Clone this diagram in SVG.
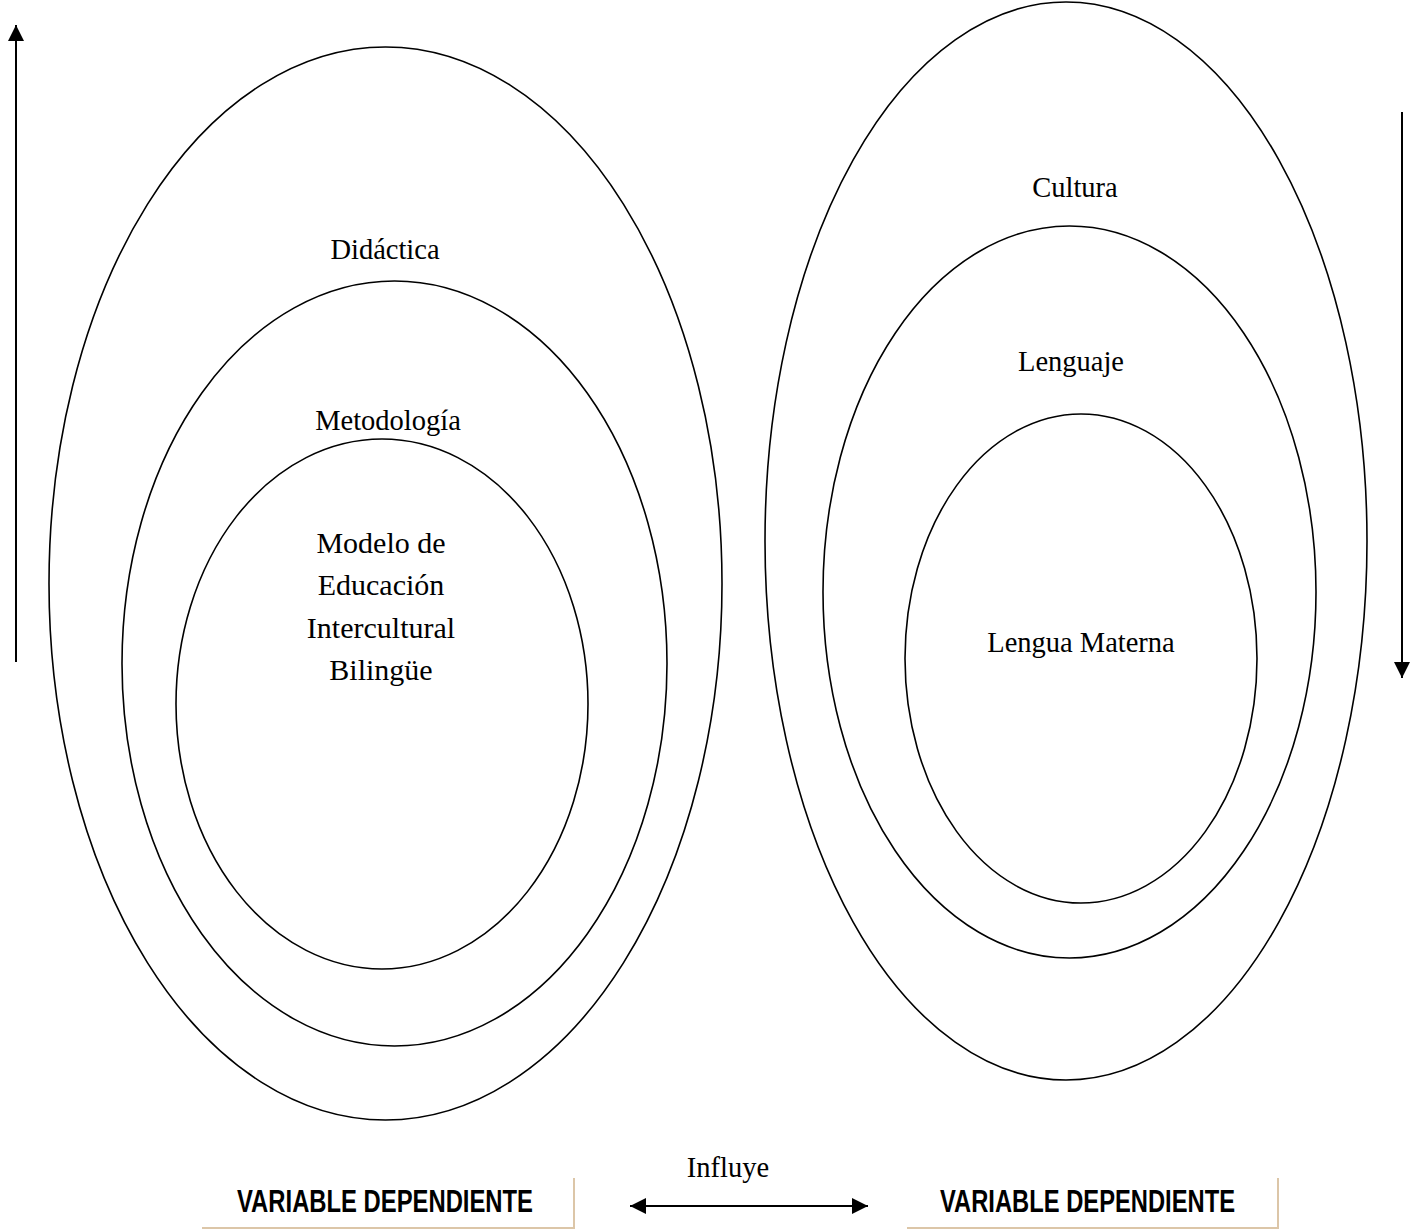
<svg xmlns="http://www.w3.org/2000/svg" width="1419" height="1230" viewBox="0 0 1419 1230">
  <style>
    .ring { fill: none; stroke: #000; stroke-width: 1.6; }
    .lbl { font-family: "Liberation Serif", "Times New Roman", serif; font-size: 28.5px; fill: #000; text-anchor: middle; }
    .inner { font-size: 30px; }
    .var { font-family: "Liberation Sans", Arial, sans-serif; font-weight: bold; font-size: 31px; fill: #000; }
    .conn { stroke: #000; stroke-width: 2; fill: none; }
    .box { stroke: #dcc6a8; stroke-width: 2; fill: none; }
  </style>
  <defs>
    <marker id="ahv" viewBox="0 0 10 10" refX="10" refY="5" markerWidth="17" markerHeight="16" markerUnits="userSpaceOnUse" orient="auto-start-reverse">
      <path d="M0,0 L10,5 L0,10 z" fill="#000"/>
    </marker>
  </defs>
  <rect width="1419" height="1230" fill="#fff"/>

  <g id="left-group">
    <g id="didactica">
      <ellipse class="ring" cx="385.5" cy="583.5" rx="336.5" ry="536.5"/>
      <text class="lbl" x="385" y="259">Didáctica</text>
    </g>
    <g id="metodologia">
      <ellipse class="ring" cx="394.5" cy="663.5" rx="272.5" ry="382.5"/>
      <text class="lbl" x="388" y="430">Metodología</text>
    </g>
    <g id="modelo">
      <ellipse class="ring" cx="382" cy="704" rx="206" ry="265"/>
      <text class="lbl inner" x="381" y="553">Modelo de</text>
      <text class="lbl inner" x="381" y="595">Educación</text>
      <text class="lbl inner" x="381" y="638">Intercultural</text>
      <text class="lbl inner" x="381" y="680">Bilingüe</text>
    </g>
  </g>

  <g id="right-group">
    <g id="cultura">
      <ellipse class="ring" cx="1066" cy="541" rx="301" ry="539"/>
      <text class="lbl" x="1075" y="197">Cultura</text>
    </g>
    <g id="lenguaje">
      <ellipse class="ring" cx="1069.5" cy="592" rx="246.5" ry="366"/>
      <text class="lbl" x="1071" y="371">Lenguaje</text>
    </g>
    <g id="lengua-materna">
      <ellipse class="ring" cx="1081" cy="658.5" rx="176" ry="244.5"/>
      <text class="lbl" x="1081" y="652">Lengua Materna</text>
    </g>
  </g>

  <g id="var-left">
    <path class="box" d="M202,1228 H574 V1178"/>
    <text class="var" x="237" y="1212" textLength="296" lengthAdjust="spacingAndGlyphs">VARIABLE DEPENDIENTE</text>
  </g>
  <g id="var-right">
    <path class="box" d="M907,1228 H1278 V1178"/>
    <text class="var" x="940" y="1212" textLength="295" lengthAdjust="spacingAndGlyphs">VARIABLE DEPENDIENTE</text>
  </g>

  <g id="connectors">
    <line class="conn" x1="16" y1="662" x2="16" y2="25" marker-end="url(#ahv)"/>
    <line class="conn" x1="1402" y1="112" x2="1402" y2="678" marker-end="url(#ahv)"/>
    <line class="conn" x1="630" y1="1206" x2="868" y2="1206" marker-start="url(#ahv)" marker-end="url(#ahv)"/>
    <text class="lbl" x="728" y="1177">Influye</text>
  </g>
</svg>
